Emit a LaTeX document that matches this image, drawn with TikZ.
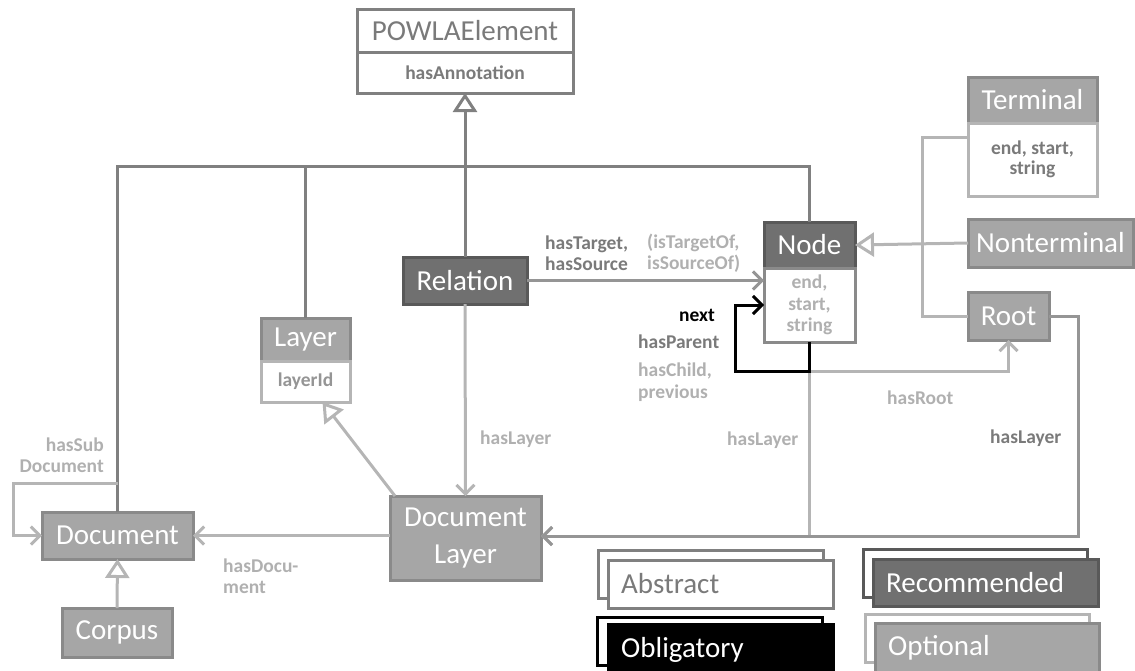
\documentclass[tikz,border=0pt]{standalone}
\usepackage{fontspec}
\setmainfont{Carlito}
\usetikzlibrary{arrows.meta,calc}
\definecolor{darkfill}{HTML}{707070}
\definecolor{darkbord}{HTML}{595959}
\definecolor{midfill}{HTML}{A6A6A6}
\definecolor{midbord}{HTML}{8A8A8A}
\definecolor{lineD}{HTML}{808080}
\definecolor{lineM}{HTML}{959595}
\definecolor{lineL}{HTML}{B5B5B5}
\definecolor{txtD}{HTML}{7A7A7A}
\definecolor{txtL}{HTML}{B0B0B0}
\tikzset{
  box/.style={draw, line width=3pt, inner sep=0pt, outer sep=0pt, align=center},
  title/.style={font=\fontsize{29}{33}\selectfont},
  small/.style={font=\fontsize{19.5}{21.5}\selectfont\bfseries},
  darkbox/.style={box, title, fill=darkfill, draw=darkbord, text=white},
  midbox/.style={box, title, fill=midfill, draw=midbord, text=white},
  bodybox/.style={box, small, fill=white},
  lbl/.style={small, inner sep=0pt, align=left},
  conn/.style={line width=3pt},
  gen/.style={conn, -{Triangle[length=19pt,width=24pt,fill=white]}},
  nav/.style={conn, -{Straight Barb[length=9pt,width=18pt]}},
}
\begin{document}
\begin{tikzpicture}[x=1pt,y=-1pt]
\useasboundingbox (0,0) rectangle (1135,670);
% classes
\node[box, title, draw=lineD, text=txtD, minimum width=216, minimum height=43] (powla) at (465,30.5) {POWLAElement};
\node[bodybox, draw=lineD, text=txtD, minimum width=216, minimum height=41] (powlaB) at (465,72.5) {hasAnnotation};
\node[midbox, minimum width=129, minimum height=46] (term) at (1032.5,100) {Terminal};
\node[bodybox, draw=lineL, text=txtD, minimum width=129, minimum height=73] (termB) at (1032.5,159.5) {end, start,\\[-1pt] string};
\node[midbox, minimum width=165, minimum height=48] (nonterm) at (1050.5,243) {Nonterminal};
\node[midbox, minimum width=81, minimum height=48] (root) at (1008.5,316) {Root};
\node[darkbox, minimum width=91, minimum height=46] (node) at (809.5,245) {Node};
\node[bodybox, draw=midbord, text=txtL, minimum width=91, minimum height=74] (nodeB) at (809.5,305) {end,\\ start,\\ string};
\node[darkbox, minimum width=124, minimum height=47] (relation) at (465,280.5) {Relation};
\node[midbox, minimum width=89, minimum height=43] (layer) at (305.5,339.5) {Layer};
\node[bodybox, draw=lineL, text=txtD!80, minimum width=89, minimum height=41] (layerB) at (305.5,381.5) {layerId};
\node[midbox, minimum width=151, minimum height=47] (document) at (117.5,535.5) {Document};
\node[midbox, minimum width=110, minimum height=49] (corpus) at (117,632.5) {Corpus};
\node[midbox, minimum width=151, minimum height=84, font=\fontsize{29}{37}\selectfont] (doclayer) at (465.5,538) {Document\\Layer};
% generalisation tree to POWLAElement
\coordinate (hbar) at (0,166);
\draw[conn, draw=lineD] (document.north) |- (node.north |- hbar) -- (node.north);
\draw[conn, draw=lineD] (layer.north) -- (layer.north |- hbar);
\draw[gen, draw=lineD] (relation.north) -- (powlaB.south);
% generalisation to Node
\coordinate (tj) at (922,137);
\draw[conn, draw=lineL] (root.west) -| (tj) -- (tj -| termB.west);
\draw[gen, draw=lineL] (nonterm.west) -- (node.east);
% Corpus -> Document
\draw[gen, draw=lineL] (corpus.north) -- (document.south);
% DocumentLayer -> Layer
\draw[gen, draw=lineL] ($(doclayer.north west)+(5,0)$) -- ($(layerB.south)+(17,0)$);
% Relation -> Node
\draw[nav, draw=lineM] (relation.east) -- (relation.east -| nodeB.west);
% Relation -> DocumentLayer
\draw[nav, draw=lineL] (relation.south) -- (doclayer.north);
% DocumentLayer -> Document
\draw[nav, draw=lineL] (doclayer.west |- document.east) -- (document.east);
% hasSubDocument
\coordinate (sd) at (13,483);
\draw[nav, draw=lineL] (document.north |- sd) -- (sd) |- (document.west);
% hasRoot and hasLayer from Node
\coordinate (nx) at (735,371);
\coordinate (hl) at (0,536);
\draw[nav, draw=lineL] (nodeB.south |- nx) -| (root.south);
\draw[nav, draw=lineL] (nodeB.south |- nx) |- (doclayer.east |- hl);
% hasLayer from Root
\draw[nav, draw=lineM] (root.east) -| (1078,536) -- (doclayer.east |- hl);
% next loop
\draw[nav, draw=black] (nodeB.south) |- (nx) |- (nodeB.west);
% labels
\node[lbl, text=txtD, anchor=west] (lt) at (545,253) {hasTarget,\\hasSource};
\node[lbl, text=txtL, anchor=west] (li) at (647,253) {(isTargetOf,\\isSourceOf)};
\node[lbl, text=black, anchor=east] (lnext) at (715,315) {next};
\node[lbl, text=txtD, anchor=west] (lpar) at (638,342) {hasParent};
\node[lbl, text=txtL, anchor=west] (lchild) at (638,382) {hasChild,\\previous};
\node[lbl, text=txtL, anchor=west] (ll1) at (480,439) {hasLayer};
\node[lbl, text=txtL, anchor=west] (ll2) at (727,440) {hasLayer};
\node[lbl, text=txtL, anchor=west] (lroot) at (887,398) {hasRoot};
\node[lbl, text=txtD, anchor=west] (ll3) at (990,438) {hasLayer};
\node[lbl, text=txtL, anchor=east, align=right] (lsub) at (104,455) {hasSub\\Document};
\node[lbl, text=txtL, anchor=west] (ldoc) at (223,576) {hasDocu-\\ment};
% legend
\node[box, draw=lineD, fill=white, minimum width=225, minimum height=48] (absB) at (710.5,574) {};
\node[box, draw=lineD, fill=white, minimum width=225, minimum height=48] (abs) at (720.5,584) {};
\node[title, text=txtD, anchor=west, inner sep=0pt] (absT) at (621,584) {Abstract};
\node[box, draw=black, fill=white, minimum width=225, minimum height=48] (oblB) at (709.5,641) {};
\node[box, draw=black, fill=black, minimum width=225, minimum height=48] (obl) at (720.5,648) {};
\node[title, text=white, anchor=west, inner sep=0pt] (oblT) at (621,650) {Obligatory};
\node[box, draw=darkbord, fill=white, minimum width=224, minimum height=48] (recB) at (975,573) {};
\node[box, draw=darkbord, fill=darkfill, minimum width=225, minimum height=47] (rec) at (985.5,582.5) {};
\node[title, text=white, anchor=west, inner sep=0pt] (recT) at (886,583) {Recommended};
\node[box, draw=lineL, fill=white, minimum width=224, minimum height=48] (optB) at (977,638) {};
\node[box, draw=midbord, fill=midfill, minimum width=224, minimum height=49] (opt) at (987,647.5) {};
\node[title, text=white, anchor=west, inner sep=0pt] (optT) at (888,648) {Optional};
\end{tikzpicture}
\end{document}
